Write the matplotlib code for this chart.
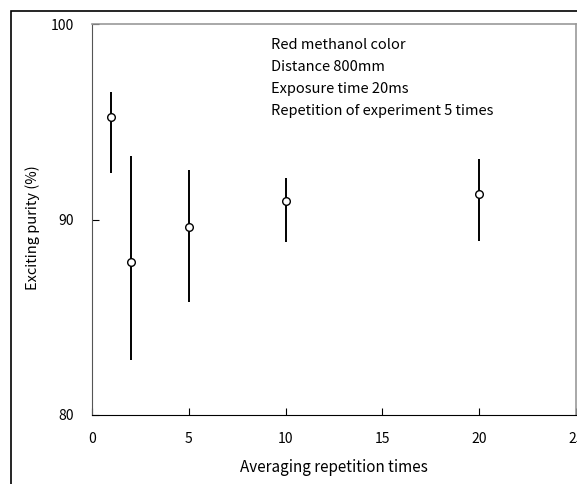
import matplotlib.pyplot as plt
from matplotlib.patches import Rectangle
import numpy as np

plt.rcParams['font.family'] = ['Noto Sans CJK JP', 'DejaVu Sans']

# averaging repetitions and measured purity (%)
reps = [1, 2, 5, 10, 20]
purity = [95.25, 87.85, 89.6, 90.95, 91.3]
upper = [96.5, 93.25, 92.55, 92.1, 93.1]
lower = [92.4, 82.8, 85.8, 88.85, 88.9]

notes = ["Red methanol color", "Distance 800mm",
         "Exposure time 20ms", "Repetition of experiment 5 times"]

purity = np.array(purity)
yerr = [purity - np.array(lower), np.array(upper) - purity]

fig = plt.figure(figsize=(5.77, 4.84), dpi=100)
ax = fig.add_axes([92/577, 1-415/484, 484/577, 391/484])

ax.errorbar(reps, purity, yerr=yerr, fmt='o', mfc='white', mec='black',
            ms=5.5, mew=1.0, ecolor='black', elinewidth=1.4, capsize=0)

ax.set_xlim(0, 25)
ax.set_ylim(80, 100)
ax.set_xticks([0, 5, 10, 15, 20, 25])
ax.set_yticks([80, 90, 100])
ax.tick_params(direction='in', length=5, labelsize=10, pad=13)
ax.tick_params(axis='x', pad=12)
ax.spines['top'].set_color('#999999')
ax.spines['right'].set_color('#999999')
ax.spines['top'].set_linewidth(1.2)
ax.spines['right'].set_linewidth(1.2)
ax.spines['left'].set_color('#555555')

ax.set_xlabel('Averaging repetition times', fontsize=11)
ax.xaxis.set_label_coords(0.5, -44/391)
ax.set_ylabel('Exciting purity (%)', fontsize=10.5)
ax.yaxis.set_label_coords(-52/484, 0.48)

for i, t in enumerate(notes):
    fig.text(271/577, 1 - (45 + i*22)/484, t, fontsize=10.5, va='center', ha='left')

# frame around the whole figure
fig.patches.append(Rectangle((11/577, -0.05), 1.2, 1 - 11/484 + 0.05,
                             transform=fig.transFigure, fill=False,
                             edgecolor='black', lw=1.2, clip_on=False))

fig.savefig('out.png', dpi=100)
